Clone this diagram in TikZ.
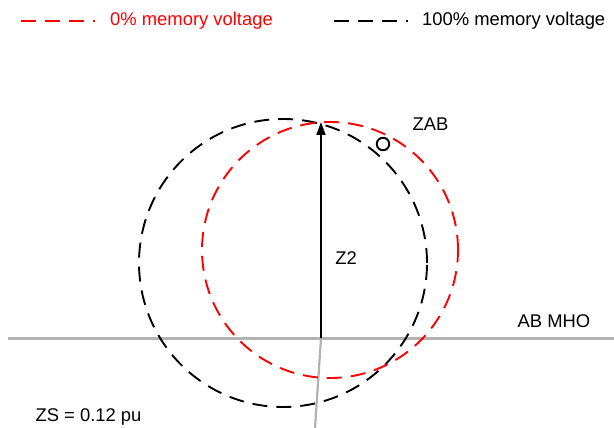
\documentclass[tikz,border=0pt]{standalone}
\usepackage{fontspec}
\setmainfont{Liberation Sans}
\usepackage{tikz}
\usetikzlibrary{arrows.meta}

\definecolor{axisgray}{RGB}{178,178,178}
\definecolor{memred}{RGB}{255,0,0}

\tikzset{
  lbl/.style={inner sep=0pt, font=\fontsize{18.4}{22}\selectfont},
  mholine/.style={line width=1.9pt, dash pattern=on 15pt off 9pt},
  legline/.style={line width=1.9pt, dash pattern=on 15pt off 9pt},
  axis/.style={axisgray, line width=2.2pt}
}

\begin{document}
\begin{tikzpicture}[x=1pt,y=1pt]
  \useasboundingbox (0,0) rectangle (614,428);

  % legend
  \coordinate (r1) at (21,407);
  \coordinate (r2) at (95,407);
  \draw[legline, memred] (r1) -- (r2);
  \node[lbl, anchor=west, text=memred] (redtxt) at (110,407) {0\% memory voltage};
  \coordinate (k1) at (334,407);
  \coordinate (k2) at (408,407);
  \draw[legline] (k1) -- (k2);
  \node[lbl, anchor=west] (blacktxt) at (422,407) {100\% memory voltage};

  % axes
  \coordinate (left) at (8,89.5);
  \coordinate (right) at (614,89.5);
  \coordinate (origin) at (321,89.5);
  \coordinate (down) at (315,0);
  \draw[axis] (left) -- (right);
  \draw[axis] (origin) -- (down);

  % mho circles
  \draw[mholine] (283,165) circle (144);
  \draw[mholine, memred] (330,178) circle (128);

  % reach
  \coordinate (reach) at (321,306);
  \draw[line width=1.8pt, -{Triangle[length=13pt,width=9pt]}] (origin) -- (reach);
  \node[draw, circle, line width=1.9pt, minimum size=12.5pt, inner sep=0pt] (load) at (383,284) {};

  \node[lbl] (zab) at (430.5,303.5) {ZAB};
  \node[lbl] (ztwo) at (346,170) {Z2};
  \node[lbl] (mho) at (554,106.5) {AB MHO};
  \node[lbl] (zs) at (88.5,11.5) {ZS = 0.12 pu};
\end{tikzpicture}
\end{document}
